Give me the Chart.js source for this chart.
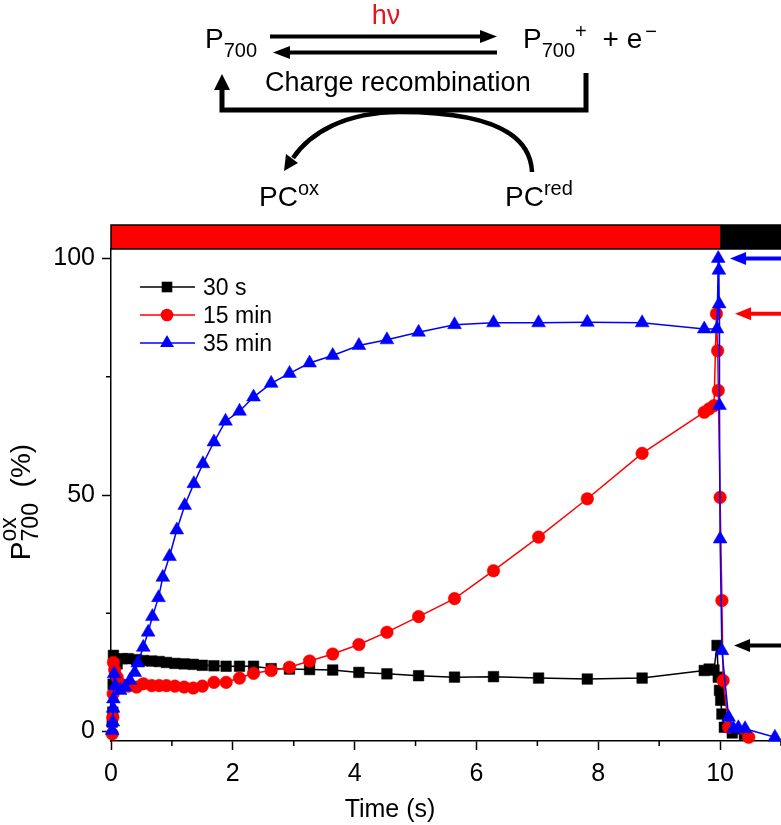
<!DOCTYPE html>
<html>
<head>
<meta charset="utf-8">
<script src="https://cdn.jsdelivr.net/npm/chart.js@4.4.1/dist/chart.umd.min.js"></script>
<style>
html,body{margin:0;padding:0;background:#fff;}
#wrap{position:relative;width:781px;height:825px;overflow:hidden;}
#c{position:absolute;left:0;top:0;}
#ov{position:absolute;left:0;top:0;pointer-events:none;}
</style>
</head>
<body>
<div id="wrap">
<canvas id="c" width="781" height="825"></canvas>
<svg id="ov" width="781" height="825" font-family="Liberation Sans, Arial, Helvetica, sans-serif" fill="#000">
  <!-- reaction scheme -->
  <text x="386" y="24" font-size="27" fill="#e8141c" text-anchor="middle">hν</text>
  <text x="205" y="48" font-size="28">P<tspan font-size="20" dy="9">700</tspan></text>
  <line x1="270" y1="36.5" x2="483" y2="36.5" stroke="#000" stroke-width="4"/>
  <polygon points="480,30 497,36.5 480,43"/>
  <line x1="287" y1="52.5" x2="497" y2="52.5" stroke="#000" stroke-width="4"/>
  <polygon points="290,46 273,52.5 290,59"/>
  <text x="523" y="48" font-size="28">P<tspan font-size="20" dy="9">700</tspan><tspan font-size="20" dy="-19">+</tspan><tspan dy="10" dx="8"> + e</tspan><tspan font-size="20" dy="-10" dx="3">−</tspan></text>
  <text x="265" y="91" font-size="27">Charge recombination</text>
  <path d="M586,73 V110 H222 V88" fill="none" stroke="#000" stroke-width="5"/>
  <polygon points="214,90 222,74 230,90"/>
  <path d="M532,172 C530,125 470,112 400,112 C345,112 310,133 293,158" fill="none" stroke="#000" stroke-width="4.5"/>
  <polygon points="284,171 298,163 286,154"/>
  <text x="259" y="206" font-size="28">PC<tspan font-size="20" dy="-11">ox</tspan></text>
  <text x="505" y="206" font-size="28">PC<tspan font-size="20" dy="-11">red</tspan></text>
  <!-- y axis title -->
  <text transform="translate(30,502) rotate(-90)" text-anchor="middle" font-size="28">P<tspan font-size="23" dy="8">700</tspan><tspan font-size="23" dx="-38.4" dy="-22">ox</tspan><tspan font-size="28" dx="22" dy="14"> (%)</tspan></text>
  <!-- x axis title -->
  <text x="390" y="817" text-anchor="middle" font-size="25">Time (s)</text>
  <!-- legend -->
  <g id="legend"></g>
</svg>
</div>
<script>
// ---- data ----
const seriesNames = ['30 s', '15 min', '35 min'];

const time30s = [0.02,0.03,0.035,0.04,0.1,0.18,0.28,0.42,0.53,0.67,0.79,0.91,1.05,1.2,1.35,1.5,1.69,1.89,2.11,2.34,2.63,2.93,3.26,3.64,4.07,4.53,5.05,5.64,6.28,7.02,7.82,8.72,9.74,9.82,9.9,9.95,9.97,9.99,10.01,10.03,10.07,10.2,10.4];
const p700_30s = [2.0,4.1,10.0,16.1,14.3,15.4,15.4,15.2,15.0,14.9,14.8,14.6,14.4,14.3,14.2,14.0,13.9,13.8,13.8,13.8,13.3,13.2,13.1,13.0,12.5,12.2,11.8,11.5,11.6,11.3,11.1,11.3,12.9,13.2,13.0,18.2,11.5,8.7,6.6,3.7,0.9,-0.3,-0.6];

const time15min = [0.02,0.03,0.035,0.04,0.06,0.1,0.17,0.28,0.42,0.53,0.67,0.79,0.91,1.05,1.2,1.35,1.5,1.69,1.89,2.11,2.34,2.63,2.93,3.26,3.64,4.07,4.53,5.05,5.64,6.28,7.02,7.82,8.72,9.74,9.82,9.9,9.94,9.96,9.97,10.0,10.03,10.05,10.14,10.47];
const p700_15min = [-0.5,3.0,8.0,14.6,13.0,11.5,10.0,9.6,9.4,10.1,9.7,9.7,9.7,9.6,9.4,9.2,9.6,10.4,10.4,11.3,12.3,12.9,13.6,14.9,16.4,18.4,21.0,24.3,28.1,34.0,41.1,49.2,58.8,67.5,68.2,68.9,88.3,80.5,72.1,49.5,27.7,10.8,0.9,-1.2];

const time35min = [0.02,0.03,0.035,0.04,0.05,0.07,0.15,0.23,0.31,0.39,0.44,0.53,0.61,0.68,0.78,0.85,0.96,1.08,1.21,1.36,1.51,1.69,1.88,2.11,2.34,2.63,2.93,3.26,3.64,4.07,4.53,5.05,5.64,6.28,7.02,7.82,8.72,9.74,9.95,9.97,9.98,9.985,9.99,10.0,10.03,10.14,10.22,10.3,10.41,10.9];
const p700_35min = [0.2,2.0,4.9,6.9,12.2,9.7,8.7,9.4,10.8,12.5,14.5,17.8,21.0,24.3,28.3,32.6,37.0,42.6,47.8,52.4,56.6,61.2,65.6,67.7,70.7,73.6,75.7,77.9,79.5,81.6,82.8,84.4,86.0,86.4,86.4,86.5,86.4,85.1,85.1,100,97.5,90.4,68.9,40.7,17.1,3.0,0.6,0.8,0.6,-1.2];

const xMajorTicks = [0,2,4,6,8,10];
const xMinorTicks = [1,3,5,7,9,11];
const yMajorTicks = [0,50,100];
const yMinorTicks = [25,75];
const lightOnTimes = [0,10];   // red actinic light period (s)
const darkTimes = [10,11];     // dark period (s)
const maxLevels = [100, 88.3, 18.2]; // arrows marking maximal P700ox: 35 min, 15 min, 30 s

// ---- styles ----
const colors = ['#000000', '#ff0000', '#0000ff'];
const FONT = 'Liberation Sans, Arial, Helvetica, sans-serif';
Chart.defaults.font.family = FONT;
Chart.defaults.color = '#000';

function pts(xs, ys){ return xs.map((x,i)=>({x:x, y:ys[i]})); }

const decor = {
  id: 'decor',
  afterDraw(chart){
    const {ctx, chartArea:a, scales:{x, y}} = chart;
    ctx.save();
    // light bar
    const bh = 24, top = a.top - bh;
    const l0 = x.getPixelForValue(lightOnTimes[0]), l1 = x.getPixelForValue(lightOnTimes[1]);
    const d1 = x.getPixelForValue(darkTimes[1]);
    ctx.fillStyle = '#ff0000';
    ctx.fillRect(l0, top, l1 - l0, bh);
    ctx.fillStyle = '#000';
    ctx.fillRect(l1, top, d1 - l1 + 4, bh);
    ctx.strokeStyle = '#000'; ctx.lineWidth = 1.5;
    ctx.strokeRect(l0, top, d1 - l0 + 6, bh);
    // minor ticks
    ctx.beginPath();
    ctx.lineWidth = 1.5;
    xMinorTicks.forEach(v => { const px = x.getPixelForValue(v); ctx.moveTo(px, a.bottom); ctx.lineTo(px, a.bottom + 5); });
    yMinorTicks.forEach(v => { const py = y.getPixelForValue(v); ctx.moveTo(a.left, py); ctx.lineTo(a.left - 5, py); });
    ctx.stroke();
    // arrows marking maxima
    const tipOffsets = [10, 15, 14];
    maxLevels.forEach((lvl, i) => {
      const py = y.getPixelForValue(lvl);
      const tip = x.getPixelForValue(10) + tipOffsets[i];
      const tail = x.getPixelForValue(11) + 5;
      ctx.strokeStyle = colors[2 - i]; ctx.fillStyle = colors[2 - i];
      ctx.lineWidth = 4;
      ctx.beginPath(); ctx.moveTo(tip + 12, py); ctx.lineTo(tail, py); ctx.stroke();
      ctx.beginPath(); ctx.moveTo(tip, py); ctx.lineTo(tip + 16, py - 6.5); ctx.lineTo(tip + 16, py + 6.5); ctx.closePath(); ctx.fill();
    });
    ctx.restore();
  }
};

const styles = [
  {pointStyle:'rect', pointRadius:7.5, order:3},
  {pointStyle:'circle', pointRadius:6.3, order:2},
  {pointStyle:'triangle', pointRadius:8, order:1}
];
const allData = [pts(time30s, p700_30s), pts(time15min, p700_15min), pts(time35min, p700_35min)];

new Chart(document.getElementById('c'), {
  type: 'line',
  data: {
    datasets: allData.map((d, i) => ({
      label: seriesNames[i],
      data: d,
      borderColor: colors[i],
      backgroundColor: colors[i],
      pointBackgroundColor: colors[i],
      pointBorderColor: colors[i],
      pointBorderWidth: 0.5,
      borderWidth: 1.5,
      pointStyle: styles[i].pointStyle,
      pointRadius: styles[i].pointRadius,
      order: styles[i].order,
      tension: 0,
      clip: false
    }))
  },
  options: {
    responsive: false,
    animation: false,
    layout: {autoPadding: false, padding: {top: 249, left: 0, right: 0, bottom: 0}},
    plugins: {legend: {display: false}, tooltip: {enabled: false}},
    scales: {
      x: {
        type: 'linear', min: 0, max: 11,
        afterFit(s){ s.height = 84; s.paddingRight = 0; s.paddingLeft = 0; },
        afterBuildTicks(s){ s.ticks = xMajorTicks.map(v => ({value: v})); },
        grid: {drawOnChartArea: false, drawTicks: true, tickLength: 9, tickWidth: 1.5, tickColor: '#000'},
        border: {color: '#000', width: 1.5},
        ticks: {color: '#000', font: {size: 25}, padding: 9, maxRotation: 0, autoSkip: false},
        title: {display: false}
      },
      y: {
        min: -2, max: 102,
        afterFit(s){ s.width = 111; },
        afterBuildTicks(s){ s.ticks = yMajorTicks.map(v => ({value: v})); },
        grid: {drawOnChartArea: false, drawTicks: true, tickLength: 9, tickWidth: 1.5, tickColor: '#000'},
        border: {color: '#000', width: 1.5},
        ticks: {color: '#000', font: {size: 25}, padding: 7}
      }
    }
  },
  plugins: [decor]
});

// legend (SVG text)
const NS = 'http://www.w3.org/2000/svg';
const lg = document.getElementById('legend');
const rowY = [287, 315, 343];
seriesNames.forEach((name, i) => {
  const cy = rowY[i];
  const ln = document.createElementNS(NS, 'line');
  ln.setAttribute('x1', 140); ln.setAttribute('x2', 195); ln.setAttribute('y1', cy); ln.setAttribute('y2', cy);
  ln.setAttribute('stroke', colors[i]); ln.setAttribute('stroke-width', 1.5);
  lg.appendChild(ln);
  let m;
  if (i === 0) {
    m = document.createElementNS(NS, 'rect');
    m.setAttribute('x', 167 - 5.3); m.setAttribute('y', cy - 5.3); m.setAttribute('width', 10.6); m.setAttribute('height', 10.6);
  } else if (i === 1) {
    m = document.createElementNS(NS, 'circle');
    m.setAttribute('cx', 167); m.setAttribute('cy', cy); m.setAttribute('r', 6.3);
  } else {
    m = document.createElementNS(NS, 'polygon');
    m.setAttribute('points', `167,${cy-8} ${167+6.93},${cy+4} ${167-6.93},${cy+4}`);
  }
  m.setAttribute('fill', colors[i]);
  lg.appendChild(m);
  const t = document.createElementNS(NS, 'text');
  t.setAttribute('x', 203); t.setAttribute('y', cy + 8); t.setAttribute('font-size', 23);
  t.textContent = name;
  lg.appendChild(t);
});
</script>
</body>
</html>
